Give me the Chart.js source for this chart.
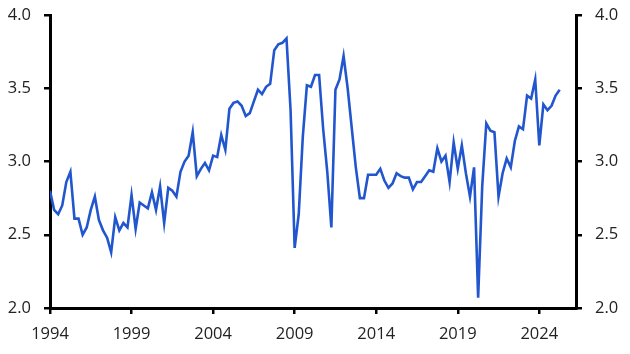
<!DOCTYPE html>
<html>
<head>
<meta charset="utf-8">
<script src="https://cdn.jsdelivr.net/npm/chart.js@4/dist/chart.umd.min.js"></script>
<style>
html,body{margin:0;padding:0;background:#fff;}
#wrap{width:630px;height:354px;}
</style>
</head>
<body>
<div id="wrap"><canvas id="c" width="630" height="354"></canvas></div>
<script>
const startYear = 1994;
const values = [
  2.80, 2.67, 2.64, 2.70,   // 1994
  2.86, 2.93, 2.61, 2.61,   // 1995
  2.50, 2.55, 2.67, 2.76,   // 1996
  2.60, 2.53, 2.48, 2.38,   // 1997
  2.62, 2.53, 2.58, 2.55,   // 1998
  2.77, 2.54, 2.72, 2.70,   // 1999
  2.68, 2.79, 2.67, 2.83,   // 2000
  2.58, 2.82, 2.80, 2.76,   // 2001
  2.93, 3.00, 3.04, 3.20,   // 2002
  2.90, 2.95, 2.99, 2.94,   // 2003
  3.04, 3.03, 3.18, 3.08,   // 2004
  3.36, 3.40, 3.41, 3.38,   // 2005
  3.31, 3.33, 3.41, 3.49,   // 2006
  3.46, 3.51, 3.53, 3.76,   // 2007
  3.80, 3.81, 3.84, 3.35,   // 2008
  2.41, 2.64, 3.17, 3.52,   // 2009
  3.51, 3.59, 3.59, 3.22,   // 2010
  2.93, 2.55, 3.49, 3.56,   // 2011
  3.72, 3.50, 3.23, 2.96,   // 2012
  2.75, 2.75, 2.91, 2.91,   // 2013
  2.91, 2.95, 2.87, 2.82,   // 2014
  2.85, 2.92, 2.90, 2.89,   // 2015
  2.89, 2.81, 2.86, 2.86,   // 2016
  2.90, 2.94, 2.93, 3.09,   // 2017
  3.00, 3.04, 2.86, 3.13,   // 2018
  2.95, 3.11, 2.92, 2.76,   // 2019
  2.96, 2.07, 2.83, 3.26,   // 2020
  3.21, 3.20, 2.76, 2.92,   // 2021
  3.02, 2.96, 3.14, 3.24,   // 2022
  3.22, 3.45, 3.43, 3.56,   // 2023
  3.11, 3.39, 3.35, 3.38,   // 2024
  3.45, 3.49                // 2025
];
const xTickYears = [1994, 1999, 2004, 2009, 2014, 2019, 2024];
const yTicks = [2.0, 2.5, 3.0, 3.5, 4.0];

const points = values.map((v, i) => ({x: startYear + i / 4, y: v}));

const tickFont = {family: "'Open Sans', 'Noto Sans', sans-serif", size: 16.5};
const axisGrid = {drawOnChartArea: false, drawTicks: true, tickLength: 6, color: '#000', lineWidth: 2.5};
const axisBorder = {display: true, color: '#000', width: 3};

new Chart(document.getElementById('c'), {
  type: 'line',
  data: {
    datasets: [{
      data: points,
      borderColor: '#2156cf',
      borderWidth: 2.6,
      pointRadius: 0,
      tension: 0,
      fill: false
    }]
  },
  options: {
    responsive: false,
    animation: false,
    layout: {padding: {top: 15, bottom: 0, left: 0, right: 0}},
    plugins: {legend: {display: false}, tooltip: {enabled: false}},
    scales: {
      x: {
        type: 'linear',
        min: 1994,
        max: 2026.25,
        grid: axisGrid,
        border: axisBorder,
        afterBuildTicks: s => { s.ticks = xTickYears.map(v => ({value: v})); },
        afterFit: s => { s.height = 46; },
        ticks: {color: '#222', font: tickFont, padding: 10, maxRotation: 0, callback: v => String(v)}
      },
      y: {
        position: 'left',
        min: 2, max: 4,
        grid: axisGrid,
        border: axisBorder,
        afterBuildTicks: s => { s.ticks = yTicks.map(v => ({value: v})); },
        afterFit: s => { s.width = 50; s.paddingTop = 0; s.paddingBottom = 0; },
        ticks: {color: '#222', font: tickFont, padding: 13, callback: v => v.toFixed(1)}
      },
      y2: {
        position: 'right',
        min: 2, max: 4,
        grid: axisGrid,
        border: axisBorder,
        afterBuildTicks: s => { s.ticks = yTicks.map(v => ({value: v})); },
        afterFit: s => { s.width = 54; s.paddingTop = 0; s.paddingBottom = 0; },
        ticks: {color: '#222', font: tickFont, padding: 13, callback: v => v.toFixed(1)}
      }
    }
  }
});
</script>
</body>
</html>
